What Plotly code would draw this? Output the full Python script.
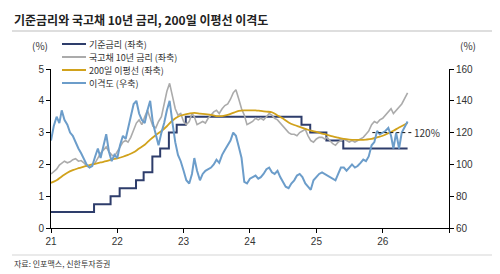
import plotly.graph_objects as go
import pandas as pd

# ---------------- data ----------------
# semi-monthly dates (1st and 16th of each month), Jan-2021 .. mid-May-2026
semi_dates = []
for y in range(2021, 2027):
    for m in range(1, 13):
        for d in (1, 16):
            semi_dates.append(f"{y}-{m:02d}-{d:02d}")
semi_dates = semi_dates[: semi_dates.index("2026-05-01")] + ["2026-05-18"]

ktb10y = [
    # 2021
    1.70, 1.78, 1.85, 1.98, 2.05, 2.10, 2.05, 2.08, 2.15, 2.18, 2.10, 2.12,
    2.05, 1.95, 1.90, 1.98, 2.05, 2.20, 2.35, 2.45, 2.55, 2.40, 2.30, 2.25,
    # 2022
    2.40, 2.55, 2.70, 2.75, 2.70, 2.85, 3.10, 3.30, 3.40, 3.25, 3.50, 3.70,
    3.45, 3.20, 3.15, 3.35, 3.50, 3.90, 4.30, 4.55, 4.15, 3.75, 3.55, 3.60,
    # 2023
    3.35, 3.25, 3.35, 3.60, 3.50, 3.25, 3.30, 3.35, 3.30, 3.45, 3.55, 3.65,
    3.70, 3.60, 3.75, 3.85, 3.90, 4.05, 4.25, 4.35, 4.05, 3.75, 3.55, 3.25,
    # 2024
    3.30, 3.35, 3.45, 3.40, 3.45, 3.40, 3.50, 3.60, 3.55, 3.45, 3.40, 3.30,
    3.20, 3.10, 3.00, 2.95, 2.95, 2.90, 3.00, 3.05, 3.10, 2.90, 2.75, 2.70,
    # 2025
    2.80, 2.85, 2.85, 2.80, 2.85, 2.75, 2.65, 2.60, 2.70, 2.75, 2.80, 2.75,
    2.70, 2.75, 2.70, 2.75, 2.80, 2.85, 2.95, 3.05, 3.25, 3.35, 3.30, 3.40,
    # 2026
    3.45, 3.55, 3.65, 3.75, 3.60, 3.70, 3.80, 3.90, 4.25,
]

disparity = [
    # 2021
    115, 124, 130, 126, 134, 128, 125, 120, 118, 114, 110, 107,
    103, 100, 98, 99, 105, 110, 104, 112, 119, 108, 102, 106,
    # 2022
    104, 112, 118, 116, 122, 130, 138, 140, 132, 128, 126, 134,
    140, 126, 118, 112, 120, 126, 134, 140, 126, 114, 106, 102,
    # 2023
    96, 90, 88, 94, 104, 96, 90, 94, 96, 97, 98, 100,
    103, 101, 106, 109, 112, 115, 120, 118, 111, 104, 89, 88,
    # 2024
    91, 92, 93, 91, 92, 94, 97, 98, 95, 94, 96, 92,
    89, 86, 85, 88, 90, 93, 94, 92, 88, 86, 84, 90,
    # 2025
    92, 94, 95, 94, 93, 92, 91, 90, 94, 98, 98, 96,
    98, 100, 98, 99, 101, 103, 102, 105, 112, 114, 121, 119,
    # 2026
    120, 121, 123, 118, 110, 120, 110, 120, 127,
]

# monthly 200-day moving average
ma_dates = [f"{y}-{m:02d}-01" for y in range(2021, 2027) for m in range(1, 13)]
ma_dates = ma_dates[: ma_dates.index("2026-05-01")] + ["2026-05-18"]
ma200 = [
    1.42, 1.50, 1.62, 1.74, 1.82, 1.88, 1.93, 1.98, 2.02, 2.06, 2.10, 2.15,
    2.19, 2.24, 2.30, 2.38, 2.50, 2.62, 2.78, 2.92, 3.05, 3.20, 3.38, 3.50,
    3.56, 3.60, 3.62, 3.60, 3.58, 3.56, 3.52, 3.52, 3.56, 3.62, 3.68, 3.70,
    3.70, 3.70, 3.68, 3.66, 3.64, 3.54, 3.44, 3.32, 3.24, 3.18, 3.12, 3.06,
    3.02, 2.97, 2.93, 2.88, 2.84, 2.80, 2.78, 2.77, 2.77, 2.78, 2.80, 2.85,
    2.90, 2.98, 3.06, 3.16, 3.30,
]

# Bank of Korea base rate (change dates)
rate_dates = ["2021-01-01", "2021-08-26", "2021-11-25", "2022-01-14", "2022-04-14",
              "2022-05-26", "2022-07-13", "2022-08-25", "2022-10-12", "2022-11-24",
              "2023-01-13", "2024-10-11", "2024-11-28", "2025-02-25", "2025-05-29",
              "2026-05-18"]
base_rate = [0.50, 0.75, 1.00, 1.25, 1.50, 1.75, 2.25, 2.50, 3.00, 3.25,
             3.50, 3.25, 3.00, 2.75, 2.50, 2.50]

ref_level = 120
ref_dates = ["2025-11-05", "2026-06-12"]

year_ticks = ["2021-01-01", "2022-01-01", "2023-01-01", "2024-01-01", "2025-01-01", "2026-01-01"]
year_labels = ["21", "22", "23", "24", "25", "26"]

names = ["기준금리 (좌축)", "국고채 10년 금리 (좌축)", "200일 이평선 (좌축)", "이격도 (우축)"]
colors = ["#2E3D6B", "#ABABAB", "#D1A21C", "#6C9DCA"]

KFONT = "Noto Sans CJK KR"
TXT = "#333333"

# ---------------- figure ----------------
fig = go.Figure()
fig.add_trace(go.Scatter(x=rate_dates, y=base_rate, mode="lines", name=names[0],
                         line=dict(color=colors[0], width=2, shape="hv")))
fig.add_trace(go.Scatter(x=semi_dates, y=ktb10y, mode="lines", name=names[1],
                         line=dict(color=colors[1], width=1.6)))
fig.add_trace(go.Scatter(x=ma_dates, y=ma200, mode="lines", name=names[2],
                         line=dict(color=colors[2], width=1.8, shape="spline")))
fig.add_trace(go.Scatter(x=semi_dates, y=disparity, mode="lines", name=names[3],
                         line=dict(color=colors[3], width=2), yaxis="y2"))
fig.add_trace(go.Scatter(x=ref_dates, y=[ref_level, ref_level], mode="lines",
                         line=dict(color="#111111", width=1, dash="dot"),
                         yaxis="y2", showlegend=False))

fig.add_annotation(x=ref_dates[1], y=ref_level, xref="x", yref="y2", text=f"{ref_level}%",
                   showarrow=False, xanchor="left", yanchor="middle", xshift=0,
                   font=dict(family=KFONT, size=10, color=TXT))

# custom compact legend
leg_x0, leg_x1, leg_tx = 62, 86, 88
leg_rows = [44, 57, 70, 83]
W, H = 500, 274
L, R, T, B = 51, 51, 69, 46
pw, ph = W - L - R, H - T - B
def px2x(px):
    return (px - L) / pw
def py2y(py):
    return (H - B - py) / ph
for nm, col, ry in zip(names, colors, leg_rows):
    fig.add_shape(type="line", xref="paper", yref="paper",
                  x0=px2x(leg_x0), x1=px2x(leg_x1), y0=py2y(ry), y1=py2y(ry),
                  line=dict(color=col, width=2))
    fig.add_annotation(xref="paper", yref="paper", x=px2x(leg_tx), y=py2y(ry), text=nm,
                       showarrow=False, xanchor="left", yanchor="middle",
                       borderpad=0,
                       font=dict(family=KFONT, size=9, color=TXT))

# title, separators, units, source
fig.add_annotation(xref="paper", yref="paper", x=px2x(12), y=py2y(19),
                   text="<b>기준금리와 국고채 10년 금리, 200일 이평선 이격도</b>",
                   showarrow=False, xanchor="left", yanchor="middle",
                   font=dict(family=KFONT, size=12, color="#222222"))
fig.add_shape(type="line", xref="paper", yref="paper", x0=px2x(12), x1=px2x(492),
              y0=py2y(31), y1=py2y(31), line=dict(color="#BDBDBD", width=1))
fig.add_shape(type="line", xref="paper", yref="paper", x0=px2x(12), x1=px2x(492),
              y0=py2y(255), y1=py2y(255), line=dict(color="#D5D5D5", width=1))
fig.add_annotation(xref="paper", yref="paper", x=px2x(40), y=py2y(45), text="(%)",
                   showarrow=False, xanchor="center", yanchor="middle",
                   font=dict(family=KFONT, size=10, color=TXT))
fig.add_annotation(xref="paper", yref="paper", x=px2x(468), y=py2y(45), text="(%)",
                   showarrow=False, xanchor="center", yanchor="middle",
                   font=dict(family=KFONT, size=10, color=TXT))
fig.add_annotation(xref="paper", yref="paper", x=px2x(12), y=py2y(263),
                   text="자료: 인포맥스, 신한투자증권",
                   showarrow=False, xanchor="left", yanchor="middle",
                   font=dict(family=KFONT, size=8, color=TXT))

axis_common = dict(showgrid=False, zeroline=False, showline=True, linecolor="#000000",
                   linewidth=1, ticks="outside", ticklen=4, tickcolor="#000000",
                   tickfont=dict(family="Liberation Sans, Arial", size=10, color=TXT))

fig.update_layout(
    width=W, height=H,
    margin=dict(l=L, r=R, t=T, b=B, pad=0),
    paper_bgcolor="white", plot_bgcolor="white",
    showlegend=False,
    xaxis=dict(range=["2021-01-01", "2027-01-01"], tickmode="array",
               tickvals=year_ticks + ["2027-01-01"], ticktext=year_labels + [""],
               **axis_common),
    yaxis=dict(range=[0, 5], dtick=1, **axis_common),
    yaxis2=dict(range=[60, 160], dtick=20, overlaying="y", side="right", **axis_common),
)

fig.write_html("out.html")
